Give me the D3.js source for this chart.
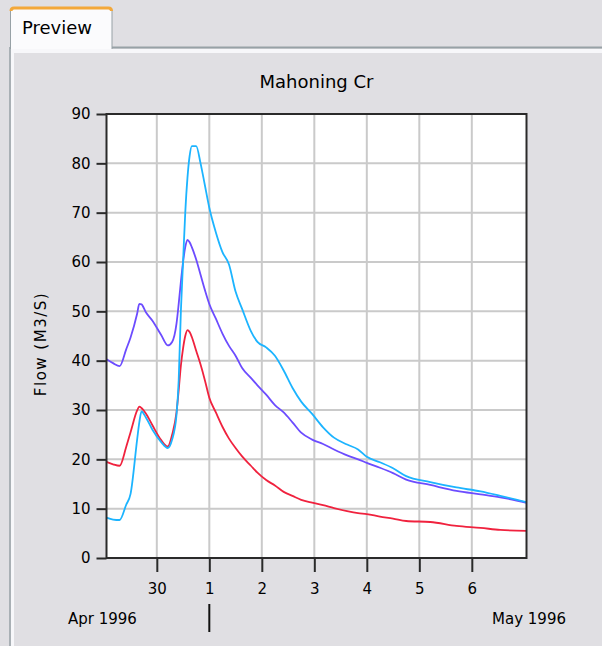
<!DOCTYPE html>
<html>
<head>
<meta charset="utf-8">
<script src="https://cdn.jsdelivr.net/npm/d3@7"></script>
<style>
  body { margin: 0; background: #e0dfe3; }
  svg { display: block; font-family: "DejaVu Sans", sans-serif; }
</style>
</head>
<body>
<div id="chart"></div>
<script>
// Data

var startTime = new Date(1996, 3, 29, 1);   // Apr 29 1996, 01:00
var hours = [0, 3, 6, 9, 11, 14, 15, 16, 18, 21, 25, 28, 30, 32, 33, 34, 35, 36, 37, 38, 39, 41, 43, 45, 47,
	50, 53, 56, 59, 62, 66, 69, 73, 77, 81, 85, 89, 94, 99, 104, 110, 115, 119, 125, 131, 137, 148, 160,
	171, 180, 192];

var flowBlue = [8.2, 7.8, 7.7, 10.8, 13, 24, 27.5, 29.7, 28.5, 26, 23.5, 22.3, 24, 29, 36, 50, 60, 70, 77,
	81.5, 83.5, 83.5, 80, 75.5, 71, 66, 62, 59.5, 54, 50.5, 46, 43.8, 42.7, 41, 38, 34.5, 31.7, 29.2, 26.5,
	24.4, 23, 22, 20.5, 19.4, 18.2, 16.6, 15.4, 14.3, 13.5, 12.6, 11.3];

var flowViolet = [40.3, 39.5, 38.9, 42.3, 44.7, 49.5, 51.5, 51.4, 49.8, 48.1, 45.2, 43.1, 43.8, 47.5, 51.5,
	56, 60, 63, 64.5, 64, 63, 60.5, 57.4, 54.3, 51.5, 48.5, 45.5, 43, 41, 38.5, 36.5, 35, 33.1, 31, 29.5,
	27.5, 25.4, 24, 23.1, 22, 20.8, 20, 19.3, 18.3, 17.2, 15.9, 14.8, 13.6, 12.9, 12.3, 11.2];

var flowRed = [19.5, 19, 18.7, 22.5, 25.5, 29.9, 30.7, 30.4, 29.3, 26.9, 23.9, 22.6, 25, 29.5, 34, 39, 42.5,
	45, 46.2, 45.8, 44.8, 42, 39.2, 36, 32.5, 29.5, 26.6, 24.2, 22.3, 20.6, 18.7, 17.3, 15.8, 14.7, 13.4,
	12.6, 11.8, 11.2, 10.7, 10.1, 9.5, 9.1, 8.9, 8.4, 8.0, 7.5, 7.3, 6.5, 6.1, 5.7, 5.5];

var yTicks = [0, 10, 20, 30, 40, 50, 60, 70, 80, 90];

// Dimensions

var width = 602;
var height = 646;
var plot = { left: 106.5, right: 526.5, top: 114, bottom: 558 };

var svg = d3.select("#chart")
	.append("svg")
	.attr("width", width)
	.attr("height", height);

// Window / tab panel

svg.append("rect")
	.attr("width", width)
	.attr("height", height)
	.attr("fill", "#e0dfe3");

// panel top border, right of the tab
svg.append("line")
	.attr("x1", 112).attr("x2", width)
	.attr("y1", 47.5).attr("y2", 47.5)
	.attr("stroke", "#97a1a6").attr("stroke-width", 2);
svg.append("rect")
	.attr("x", 12).attr("y", 49)
	.attr("width", width - 12).attr("height", 4)
	.attr("fill", "#f7f7fa");

// panel left border
svg.append("line")
	.attr("x1", 10).attr("x2", 10)
	.attr("y1", 47).attr("y2", height)
	.attr("stroke", "#97a1a6").attr("stroke-width", 1.5);
svg.append("rect")
	.attr("x", 11).attr("y", 49)
	.attr("width", 3).attr("height", height - 49)
	.attr("fill", "#f7f7fa");

// the tab itself
svg.append("path")
	.attr("d", "M10.5,49 L10.5,11 Q10.5,7.5 14,7.5 L108.5,7.5 Q112,7.5 112,11 L112,49")
	.attr("fill", "#fbfbfd")
	.attr("stroke", "#97a1a6")
	.attr("stroke-width", 1);
svg.append("path")
	.attr("d", "M11,11 Q11,8 14,8 L108.5,8 Q111.5,8 111.5,11")
	.attr("fill", "none")
	.attr("stroke", "#f3a83a")
	.attr("stroke-width", 3);

svg.append("text")
	.attr("x", 22)
	.attr("y", 34)
	.attr("font-size", 18)
	.attr("fill", "#000")
	.text("Preview");

// Scales

var endTime = d3.timeHour.offset(startTime, 192);

var x = d3.scaleTime()
	.domain([startTime, endTime])
	.range([plot.left, plot.right]);

var y = d3.scaleLinear()
	.domain([0, 90])
	.range([plot.bottom, plot.top]);

// Plot background

svg.append("rect")
	.attr("x", plot.left)
	.attr("y", plot.top)
	.attr("width", plot.right - plot.left)
	.attr("height", plot.bottom - plot.top)
	.attr("fill", "#fff");

// Grid (days inside the plot only, not on the frame)

var dayTicks = d3.timeDay.range(d3.timeDay.ceil(startTime), d3.timeDay.offset(endTime, -1));

svg.append("g")
	.selectAll("line")
	.data(dayTicks)
	.enter()
	.append("line")
	.attr("x1", function(d) { return x(d); })
	.attr("x2", function(d) { return x(d); })
	.attr("y1", plot.top)
	.attr("y2", plot.bottom)
	.attr("stroke", "#cacaca")
	.attr("stroke-width", 2);

svg.append("g")
	.selectAll("line")
	.data(yTicks.slice(1, -1))
	.enter()
	.append("line")
	.attr("x1", plot.left)
	.attr("x2", plot.right)
	.attr("y1", function(d) { return y(d); })
	.attr("y2", function(d) { return y(d); })
	.attr("stroke", "#cacaca")
	.attr("stroke-width", 2);

// Lines

var line = d3.line()
	.x(function(d, i) { return x(d3.timeHour.offset(startTime, hours[i])); })
	.y(function(d) { return y(d); })
	.curve(d3.curveMonotoneX);

var series = [
	{ values: flowRed, color: "#f0223e" },
	{ values: flowViolet, color: "#6c4cff" },
	{ values: flowBlue, color: "#1cb4ff" }
];

svg.append("g")
	.selectAll("path")
	.data(series)
	.enter()
	.append("path")
	.attr("d", function(d) { return line(d.values); })
	.attr("fill", "none")
	.attr("stroke", function(d) { return d.color; })
	.attr("stroke-width", 1.8)
	.attr("stroke-linejoin", "round");

// Frame

svg.append("rect")
	.attr("x", plot.left)
	.attr("y", plot.top)
	.attr("width", plot.right - plot.left)
	.attr("height", plot.bottom - plot.top)
	.attr("fill", "none")
	.attr("stroke", "#2a2a2a")
	.attr("stroke-width", 2);

// Axes

var yAxis = d3.axisLeft(y)
	.tickValues(yTicks)
	.tickSize(10)
	.tickPadding(6)
	.tickSizeOuter(0);

var gy = svg.append("g")
	.attr("transform", "translate(" + plot.left + ",0)")
	.call(yAxis);

var xAxis = d3.axisBottom(x)
	.tickValues(dayTicks)
	.tickFormat(d3.timeFormat("%-d"))
	.tickSize(14)
	.tickPadding(11)
	.tickSizeOuter(0);

var gx = svg.append("g")
	.attr("transform", "translate(0," + plot.bottom + ")")
	.call(xAxis);

[gx, gy].forEach(function(g) {
	g.select(".domain").remove();
	g.selectAll(".tick line").attr("stroke", "#2a2a2a").attr("stroke-width", 2);
	g.selectAll(".tick text")
		.attr("fill", "#000")
		.attr("font-size", 15)
		.attr("font-family", "DejaVu Sans, sans-serif");
});

// Month labels

svg.append("text")
	.attr("x", 68)
	.attr("y", 624)
	.attr("font-size", 15)
	.text("Apr 1996");

svg.append("text")
	.attr("x", 566)
	.attr("y", 624)
	.attr("font-size", 15)
	.attr("text-anchor", "end")
	.text("May 1996");

var may1 = new Date(1996, 4, 1);
svg.append("line")
	.attr("x1", x(may1)).attr("x2", x(may1))
	.attr("y1", 604).attr("y2", 632)
	.attr("stroke", "#111")
	.attr("stroke-width", 2);

// Titles

svg.append("text")
	.attr("x", (plot.left + plot.right) / 2)
	.attr("y", 88)
	.attr("text-anchor", "middle")
	.attr("font-size", 18)
	.text("Mahoning Cr");

svg.append("text")
	.attr("transform", "translate(46," + ((plot.top + plot.bottom) / 2 + 8) + ") rotate(-90)")
	.attr("text-anchor", "middle")
	.attr("font-size", 15)
	.attr("letter-spacing", 1.5)
	.text("Flow (M3/S)");
</script>
</body>
</html>
